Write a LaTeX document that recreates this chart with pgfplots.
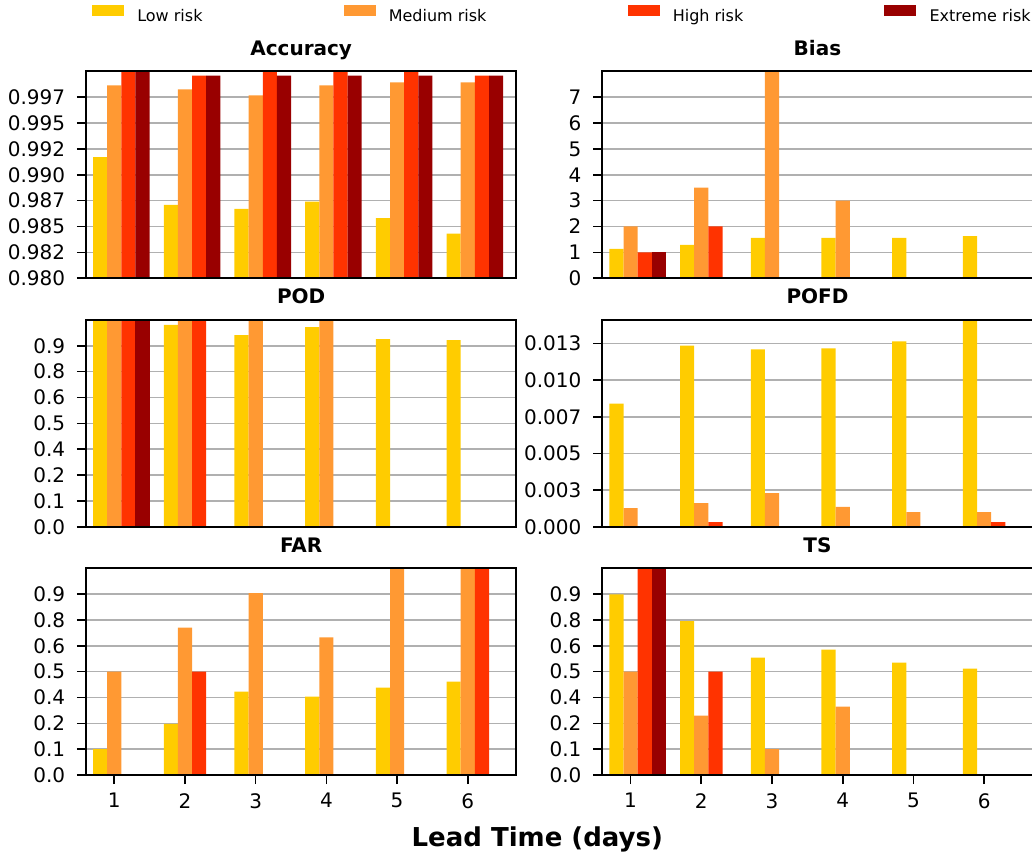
\documentclass[border=0pt]{standalone}
\usepackage{pgfplots}
\pgfplotsset{compat=1.18}
\usepackage{fontspec}
\setmainfont{DejaVu Sans}
\definecolor{lowc}{RGB}{255,204,0}
\definecolor{medc}{RGB}{255,153,51}
\definecolor{highc}{RGB}{255,51,0}
\definecolor{extc}{RGB}{153,0,0}
\definecolor{gridc}{RGB}{176,176,176}
\pgfplotsset{
 layers/mylayers/.define layer set={
  axis background,axis grid,pre main,main,axis ticks,axis lines,axis tick labels,axis descriptions,axis foreground
 }{
  grid style={/pgfplots/on layer=axis grid},
  tick style={/pgfplots/on layer=axis ticks},
  axis line style={/pgfplots/on layer=axis lines},
  label style={/pgfplots/on layer=axis descriptions},
  legend style={/pgfplots/on layer=axis descriptions},
  title style={/pgfplots/on layer=axis descriptions},
  colorbar style={/pgfplots/on layer=axis descriptions},
  ticklabel style={/pgfplots/on layer=axis tick labels},
  axis background@ style={/pgfplots/on layer=axis background},
  3d box foreground style={/pgfplots/on layer=axis foreground},
 },
 myax/.style={
  set layers=mylayers,
  scale only axis, width=215.15pt, height=103.4pt,
  xmin=0.6, xmax=6.686, ymin=0,
  ymajorgrids, grid style={color=gridc, line width=0.8pt},
  axis line style={line width=1pt},
  tick style={black, line width=0.8pt},
  major tick length=4.6pt, tick align=outside,
  xtick pos=bottom, ytick pos=left,
  xtick=\empty,
  scaled y ticks=false,
  /pgf/number format/assume math mode=true,
  tick label style={font=\fontsize{10}{12}\selectfont},
  yticklabel style={anchor=east, inner sep=0pt, xshift=-5.65pt},
  xticklabel style={anchor=north, inner sep=0pt, yshift=-4.4pt},
  title style={font=\bfseries\fontsize{10}{12}\selectfont, at={(0.5,1)}, anchor=base, yshift=2pt, inner sep=0pt},
  ticks01/.style={ymax=1, ytick={0,0.125,0.25,0.375,0.5,0.625,0.75,0.875},
   yticklabels={0.0,0.1,0.2,0.4,0.5,0.6,0.8,0.9}},
 },
 bl/.style={ybar, bar width=0.2, bar shift=0pt, draw=none, fill=lowc},
 bm/.style={ybar, bar width=0.2, bar shift=0pt, draw=none, fill=medc},
 bh/.style={ybar, bar width=0.2, bar shift=0pt, draw=none, fill=highc},
 be/.style={ybar, bar width=0.2, bar shift=0pt, draw=none, fill=extc},
}
\begin{document}
\begin{tikzpicture}
% Accuracy
\begin{axis}[myax, at={(43pt,289.4pt)}, anchor=south west, title={Accuracy},
  ymin=0.98, ymax=1.0,
  ytick={0.98,0.9825,0.985,0.9875,0.99,0.9925,0.995,0.9975},
  yticklabels={0.980,0.982,0.985,0.987,0.990,0.992,0.995,0.997},
  legend columns=4,
  legend style={at={(0.01394,1.2754)}, anchor=west, draw=none, fill=none, inner sep=0pt, outer sep=0pt,
   font=\fontsize{8}{9.6}\selectfont, nodes={inner sep=0pt, outer sep=0pt},
   /tikz/every odd column/.append style={column sep=6.65pt},
   /tikz/every even column/.append style={column sep=70.5pt}},
  legend cell align=left,
  legend image code/.code={\fill[#1] (0pt,0pt) rectangle (16pt,5.85pt);},
 ]
\addplot[bl] coordinates {(0.8,0.9917)(1.8,0.9871)(2.8,0.9867)(3.8,0.9874)(4.8,0.9858)(5.8,0.9843)};
\addplot[bm] coordinates {(1,0.99865)(2,0.99826)(3,0.99768)(4,0.99865)(5,0.99894)(6,0.99894)};
\addplot[bh] coordinates {(1.2,1.0)(2.2,0.9996)(3.2,1.0)(4.2,1.0)(5.2,1.0)(6.2,0.9996)};
\addplot[be] coordinates {(1.4,1.0)(2.4,0.9996)(3.4,0.9996)(4.4,0.9996)(5.4,0.9996)(6.4,0.9996)};
\legend{Low risk,Medium risk,High risk,Extreme risk}
\end{axis}
% Bias
\begin{axis}[myax, at={(301.15pt,289.4pt)}, anchor=south west, title={Bias},
  ymax=8, ytick={0,1,2,3,4,5,6,7}]
\addplot[bl] coordinates {(0.8,1.13)(1.8,1.29)(2.8,1.56)(3.8,1.56)(4.8,1.56)(5.8,1.63)};
\addplot[bm] coordinates {(1,2)(2,3.5)(3,8)(4,3)};
\addplot[bh] coordinates {(1.2,1)(2.2,2)};
\addplot[be] coordinates {(1.4,1)};
\end{axis}
% POD
\begin{axis}[myax, ticks01, at={(43pt,165.1pt)}, anchor=south west, title={POD}]
\addplot[bl] coordinates {(0.8,1)(1.8,0.976)(2.8,0.927)(3.8,0.966)(4.8,0.908)(5.8,0.903)};
\addplot[bm] coordinates {(1,1)(2,1)(3,1)(4,1)};
\addplot[bh] coordinates {(1.2,1)(2.2,1)};
\addplot[be] coordinates {(1.4,1)};
\end{axis}
% POFD
\begin{axis}[myax, at={(301.15pt,165.1pt)}, anchor=south west, title={POFD},
  ymax=0.0141, ytick={0,0.0025,0.005,0.0075,0.01,0.0125},
  yticklabels={0.000,0.003,0.005,0.007,0.010,0.013}]
\addplot[bl] coordinates {(0.8,0.0084)(1.8,0.01236)(2.8,0.01209)(3.8,0.01216)(4.8,0.01264)(5.8,0.0141)};
\addplot[bm] coordinates {(1,0.00128)(2,0.00162)(3,0.0023)(4,0.00135)(5,0.001)(6,0.001)};
\addplot[bh] coordinates {(2.2,0.00032)(6.2,0.00032)};
\end{axis}
% FAR
\begin{axis}[myax, ticks01, at={(43pt,41pt)}, anchor=south west, title={FAR},
  xtick={1,2,3,4,5,6}]
\addplot[bl] coordinates {(0.8,0.125)(1.8,0.247)(2.8,0.403)(3.8,0.379)(4.8,0.423)(5.8,0.452)};
\addplot[bm] coordinates {(1,0.5)(2,0.713)(3,0.879)(4,0.665)(5,1)(6,1)};
\addplot[bh] coordinates {(2.2,0.5)(6.2,1)};
\end{axis}
% TS
\begin{axis}[myax, ticks01, at={(301.15pt,41pt)}, anchor=south west, title={TS},
  xtick={1,2,3,4,5,6}]
\addplot[bl] coordinates {(0.8,0.873)(1.8,0.744)(2.8,0.568)(3.8,0.606)(4.8,0.544)(5.8,0.515)};
\addplot[bm] coordinates {(1,0.5)(2,0.287)(3,0.125)(4,0.331)};
\addplot[bh] coordinates {(1.2,1)(2.2,0.5)};
\addplot[be] coordinates {(1.4,1)};
\end{axis}
\node[anchor=base, inner sep=0pt, font=\bfseries\fontsize{13}{15.6}\selectfont] at (268.65pt,5.5pt) {Lead Time (days)};
\pgfresetboundingbox
\path[use as bounding box] (0,0) rectangle (516pt,428.5pt);
\end{tikzpicture}
\end{document}
